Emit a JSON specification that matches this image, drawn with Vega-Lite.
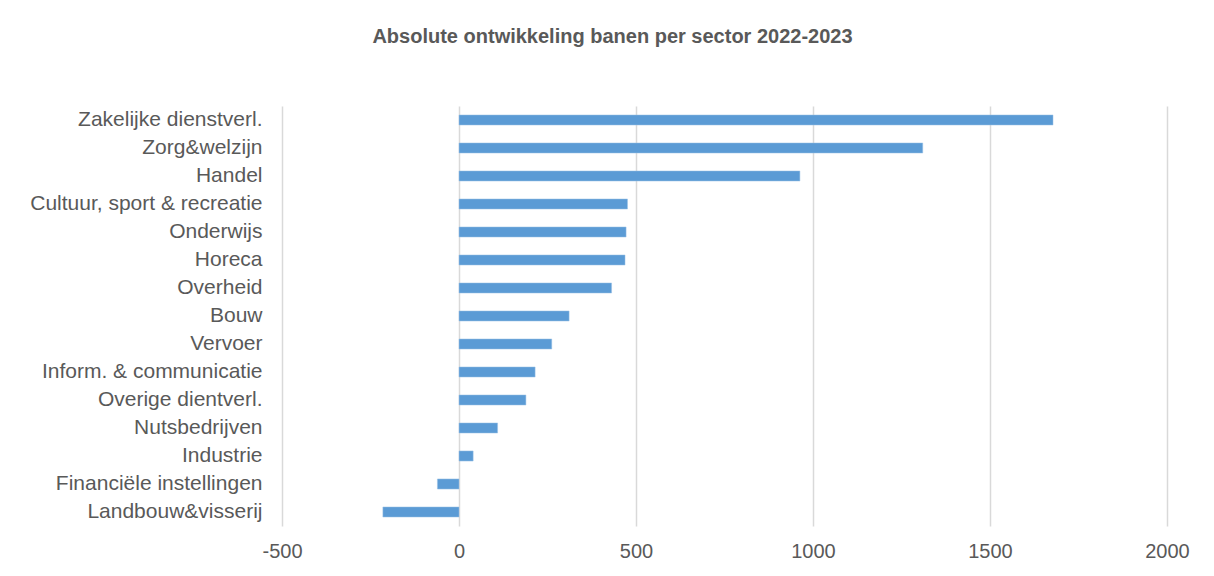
{
  "$schema": "https://vega.github.io/schema/vega-lite/v6.json",
  "autosize": "none",
  "width": 885,
  "height": 420,
  "padding": {"left": 282, "top": 106, "right": 47, "bottom": 50},
  "background": "white",
  "title": {
    "text": "Absolute ontwikkeling banen per sector 2022-2023",
    "font": "Liberation Sans",
    "fontSize": 20,
    "fontWeight": "bold",
    "color": "#595959",
    "anchor": "middle",
    "dx": -112,
    "offset": 59
  },
  "data": {
    "values": [
      {"sector": "Zakelijke dienstverl.", "banen": 1678},
      {"sector": "Zorg&welzijn", "banen": 1310},
      {"sector": "Handel", "banen": 963},
      {"sector": "Cultuur, sport & recreatie", "banen": 476},
      {"sector": "Onderwijs", "banen": 472},
      {"sector": "Horeca", "banen": 469},
      {"sector": "Overheid", "banen": 431},
      {"sector": "Bouw", "banen": 311},
      {"sector": "Vervoer", "banen": 262},
      {"sector": "Inform. & communicatie", "banen": 215},
      {"sector": "Overige dientverl.", "banen": 189},
      {"sector": "Nutsbedrijven", "banen": 109},
      {"sector": "Industrie", "banen": 40},
      {"sector": "Financiële instellingen", "banen": -61},
      {"sector": "Landbouw&visserij", "banen": -215}
    ]
  },
  "mark": {"type": "bar", "color": "#5B9BD5", "stroke": "#9dc3e6", "strokeWidth": 0.5},
  "encoding": {
    "y": {
      "field": "sector",
      "type": "nominal",
      "sort": null,
      "scale": {"paddingInner": 0.64, "paddingOuter": 0.32},
      "axis": {
        "title": null,
        "domain": false,
        "ticks": false,
        "labelPadding": 20,
        "labelFont": "Liberation Sans",
        "labelFontSize": 21,
        "labelColor": "#595959",
        "labelLimit": 0
      }
    },
    "x": {
      "field": "banen",
      "type": "quantitative",
      "scale": {"domain": [-500, 2000], "nice": false, "zero": false},
      "axis": {
        "title": null,
        "domain": false,
        "ticks": false,
        "grid": true,
        "gridColor": "#d9d9d9",
        "gridWidth": 1.5,
        "values": [-500, 0, 500, 1000, 1500, 2000],
        "labelExpr": "toString(datum.value)",
        "labelPadding": 15,
        "labelFont": "Liberation Sans",
        "labelFontSize": 20,
        "labelColor": "#595959",
        "labelFlush": false
      }
    }
  },
  "config": {"view": {"stroke": null}}
}
